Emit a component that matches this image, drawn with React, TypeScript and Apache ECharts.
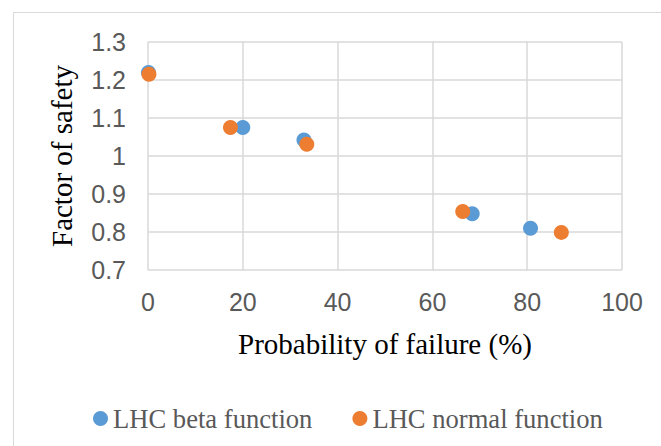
import React, { useEffect, useRef } from "react";
import * as echarts from "echarts";

const seriesNames = ["LHC beta function", "LHC normal function"];
const betaX = [0.1, 20.0, 32.9, 68.4, 80.7];
const betaY = [1.22, 1.075, 1.042, 0.848, 0.81];
const normalX = [0.2, 17.4, 33.5, 66.4, 87.2];
const normalY = [1.215, 1.075, 1.031, 0.854, 0.799];
const colors = ["#5B9BD5", "#ED7D31"];

export default function App() {
  const ref = useRef<HTMLDivElement>(null);
  useEffect(() => {
    if (!ref.current) return;
    const chart = echarts.init(ref.current, undefined, { renderer: "svg" });
    const serif = "'Liberation Serif', 'Times New Roman', serif";
    const sans = "'Liberation Sans', Arial, sans-serif";
    chart.setOption({
      animation: false,
      backgroundColor: "#ffffff",
      color: colors,
      graphic: [
        {
          type: "rect",
          shape: { x: 13.5, y: 12.5, width: 700, height: 500 },
          style: { fill: "none", stroke: "#d9d9d9", lineWidth: 1 },
          silent: true,
        },
      ],
      grid: { left: 148, right: 39, top: 42, bottom: 176 },
      legend: {
        data: seriesNames,
        left: 88,
        top: 400,
        icon: "circle",
        itemWidth: 15,
        itemHeight: 15,
        itemGap: 40,
        textStyle: { fontFamily: serif, fontSize: 26.6, color: "#595959" },
      },
      xAxis: {
        type: "value",
        min: 0,
        max: 100,
        interval: 20,
        name: "Probability of failure (%)",
        nameLocation: "middle",
        nameGap: 59,
        nameTextStyle: { fontFamily: serif, fontSize: 29, color: "#000000" },
        axisLine: { show: false },
        axisTick: { show: false },
        axisLabel: { fontFamily: sans, fontSize: 25, color: "#595959", margin: 19 },
        splitLine: { show: true, lineStyle: { color: "#d9d9d9", width: 1.5 } },
      },
      yAxis: {
        type: "value",
        min: 0.7,
        max: 1.3,
        interval: 0.1,
        name: "Factor of safety",
        nameLocation: "middle",
        nameGap: 72,
        nameTextStyle: { fontFamily: serif, fontSize: 29, color: "#000000" },
        axisLine: { show: false },
        axisTick: { show: false },
        axisLabel: {
          fontFamily: sans,
          fontSize: 25,
          color: "#595959",
          margin: 22,
          formatter: (v: number) => String(Math.round(v * 10) / 10),
        },
        splitLine: { show: true, lineStyle: { color: "#d9d9d9", width: 1.5 } },
      },
      series: [
        {
          name: seriesNames[0],
          type: "scatter",
          symbolSize: 15,
          itemStyle: { color: colors[0], opacity: 1 },
          data: betaX.map((x, i) => [x, betaY[i]]),
        },
        {
          name: seriesNames[1],
          type: "scatter",
          symbolSize: 15,
          itemStyle: { color: colors[1], opacity: 1 },
          data: normalX.map((x, i) => [x, normalY[i]]),
        },
      ],
    });
    return () => chart.dispose();
  }, []);
  return (
    <div
      ref={ref}
      style={{ position: "absolute", left: 0, top: 0, width: 661, height: 446 }}
    />
  );
}
